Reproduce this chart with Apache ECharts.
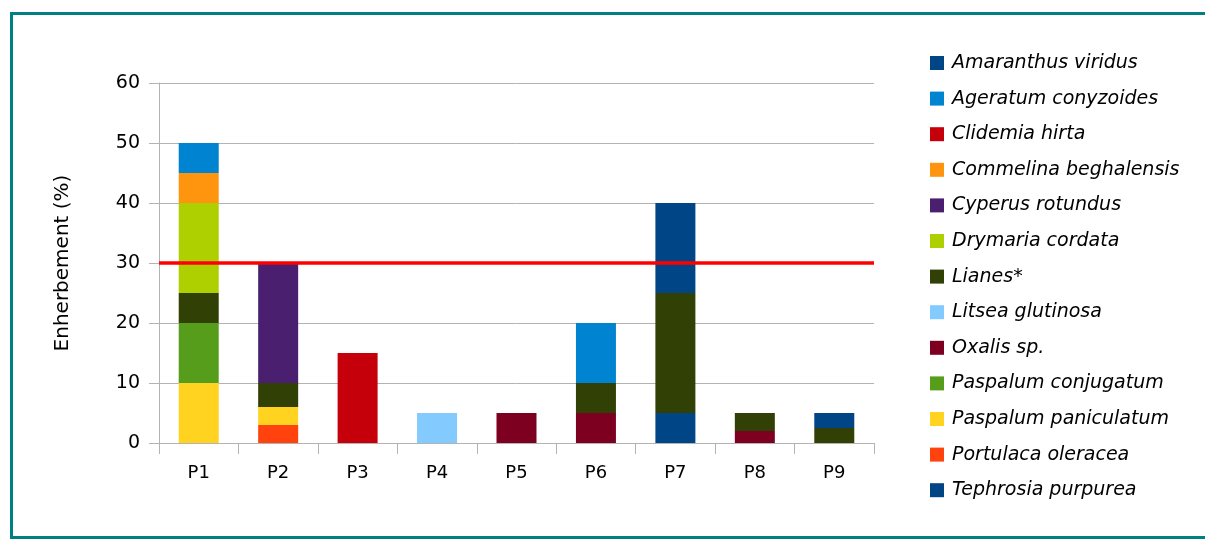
<!DOCTYPE html>
<html>
<head>
<meta charset="utf-8">
<script src="https://cdn.jsdelivr.net/npm/echarts@6/dist/echarts.min.js"></script>
<style>
  html, body { margin: 0; padding: 0; background: #fff; overflow: hidden; }
  #frame { position: absolute; left: 10px; top: 12px; width: 1220px; height: 521px; border: 3px solid #008080; box-sizing: content-box; }
  #chart { position: absolute; left: 0; top: 0; width: 1205px; height: 539px; }
</style>
</head>
<body>
<div id="frame"></div>
<div id="chart"></div>
<script>
const categories = ['P1', 'P2', 'P3', 'P4', 'P5', 'P6', 'P7', 'P8', 'P9'];
const yTicks = [0, 10, 20, 30, 40, 50, 60];
const threshold = 30;

// Legend order (top to bottom)
const legendOrder = ['Amaranthus viridus', 'Ageratum conyzoides', 'Clidemia hirta', 'Commelina beghalensis',
  'Cyperus rotundus', 'Drymaria cordata', 'Lianes*', 'Litsea glutinosa', 'Oxalis sp.',
  'Paspalum conjugatum', 'Paspalum paniculatum', 'Portulaca oleracea', 'Tephrosia purpurea'];

// Values per species, per plot P1..P9
const amaranthus = [0, 0, 0, 0, 0, 0, 15, 0, 2.5];
const ageratum   = [5, 0, 0, 0, 0, 10, 0, 0, 0];
const clidemia   = [0, 0, 15, 0, 0, 0, 0, 0, 0];
const commelina  = [5, 0, 0, 0, 0, 0, 0, 0, 0];
const cyperus    = [0, 20, 0, 0, 0, 0, 0, 0, 0];
const drymaria   = [15, 0, 0, 0, 0, 0, 0, 0, 0];
const lianes     = [5, 4, 0, 0, 0, 5, 20, 3, 2.5];
const litsea     = [0, 0, 0, 5, 0, 0, 0, 0, 0];
const oxalis     = [0, 0, 0, 0, 5, 5, 0, 2, 0];
const pConjug    = [10, 0, 0, 0, 0, 0, 0, 0, 0];
const pPanic     = [10, 3, 0, 0, 0, 0, 0, 0, 0];
const portulaca  = [0, 3, 0, 0, 0, 0, 0, 0, 0];
const tephrosia  = [0, 0, 0, 0, 0, 0, 5, 0, 0];

const seriesValues = {
  'Amaranthus viridus': amaranthus,
  'Ageratum conyzoides': ageratum,
  'Clidemia hirta': clidemia,
  'Commelina beghalensis': commelina,
  'Cyperus rotundus': cyperus,
  'Drymaria cordata': drymaria,
  'Lianes*': lianes,
  'Litsea glutinosa': litsea,
  'Oxalis sp.': oxalis,
  'Paspalum conjugatum': pConjug,
  'Paspalum paniculatum': pPanic,
  'Portulaca oleracea': portulaca,
  'Tephrosia purpurea': tephrosia
};
const colors = {
  'Amaranthus viridus': '#004586',
  'Ageratum conyzoides': '#0084d1',
  'Clidemia hirta': '#c5000b',
  'Commelina beghalensis': '#ff950e',
  'Cyperus rotundus': '#4b1f6f',
  'Drymaria cordata': '#aecf00',
  'Lianes*': '#314004',
  'Litsea glutinosa': '#83caff',
  'Oxalis sp.': '#7e0021',
  'Paspalum conjugatum': '#579d1c',
  'Paspalum paniculatum': '#ffd320',
  'Portulaca oleracea': '#ff420e',
  'Tephrosia purpurea': '#004586'
};

const FONT = '"DejaVu Sans", sans-serif';

// Stack order: last legend entry at the bottom
const stackOrder = legendOrder.slice().reverse();
const series = stackOrder.map((name) => ({
  name: name,
  type: 'bar',
  stack: 'total',
  barWidth: 40,
  itemStyle: { color: colors[name] },
  emphasis: { disabled: true },
  data: seriesValues[name].map(v => v === 0 ? null : v),
  z: 2
}));
series[series.length - 1].markLine = {
  silent: true,
  symbol: ['none', 'none'],
  label: { show: false },
  lineStyle: { color: '#ff0000', width: 3.5, type: 'solid' },
  data: [{ yAxis: threshold }],
  z: 5
};

const chart = echarts.init(document.getElementById('chart'), null, { renderer: 'canvas' });
chart.setOption({
  animation: false,
  backgroundColor: 'transparent',
  textStyle: { fontFamily: FONT },
  grid: { left: 159, right: 331, top: 83, bottom: 96, containLabel: false },
  legend: {
    orient: 'vertical',
    left: 930,
    top: 53,
    padding: 0,
    data: legendOrder,
    itemWidth: 14,
    itemHeight: 14,
    itemGap: 15.6,
    icon: 'rect',
    textStyle: { fontFamily: FONT, fontStyle: 'italic', fontSize: 19, color: '#000', lineHeight: 20, padding: [0, 0, 0, 3] },
    selectedMode: false
  },
  xAxis: {
    type: 'category',
    data: categories,
    axisLine: { lineStyle: { color: '#b3b3b3', width: 1 } },
    axisTick: { show: true, length: 11, lineStyle: { color: '#b3b3b3' } },
    axisLabel: { color: '#000', fontSize: 18, fontFamily: FONT, margin: 21 },
    splitLine: { show: false }
  },
  yAxis: {
    type: 'value',
    min: yTicks[0],
    max: yTicks[yTicks.length - 1],
    interval: 10,
    name: 'Enherbement (%)',
    nameLocation: 'middle',
    nameGap: 86,
    nameTextStyle: { color: '#000', fontSize: 20, fontFamily: FONT },
    axisLine: { show: true, lineStyle: { color: '#b3b3b3', width: 1 } },
    axisTick: { show: true, length: 10, lineStyle: { color: '#b3b3b3' } },
    axisLabel: { color: '#000', fontSize: 19, fontFamily: FONT, margin: 19 },
    splitLine: { show: true, lineStyle: { color: '#b3b3b3', width: 1 } }
  },
  series: series
});
</script>
</body>
</html>
